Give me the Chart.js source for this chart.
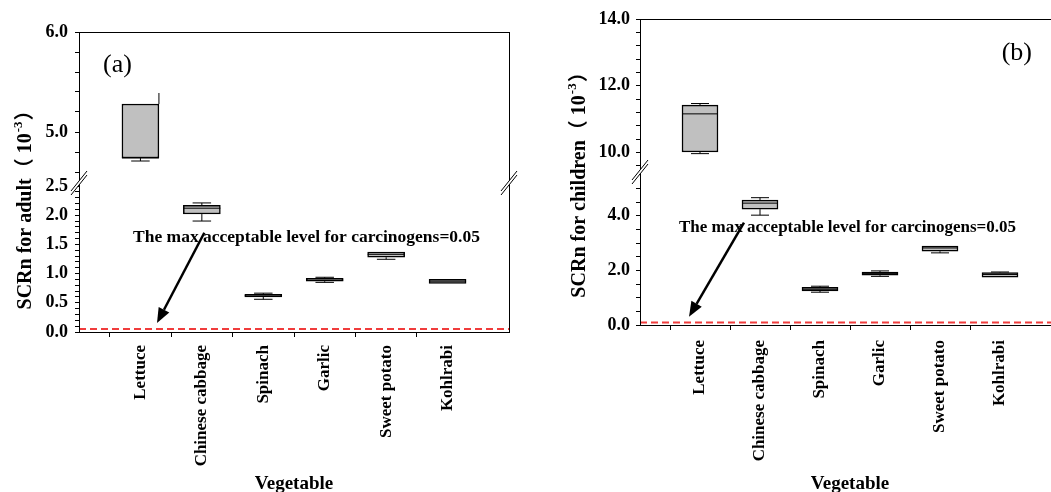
<!DOCTYPE html>
<html><head><meta charset="utf-8">
<script src="https://cdn.jsdelivr.net/npm/chart.js@4.4.1/dist/chart.umd.min.js"></script>
<style>
html,body{margin:0;padding:0;width:1051px;height:492px;overflow:hidden;background:#fff;position:relative;}
canvas{position:absolute;top:0;}
#ca{left:0;} #cb{left:528px;}
</style></head><body>
<canvas id="ca" width="526" height="500"></canvas>
<canvas id="cb" width="542" height="500"></canvas>
<script>
// ---------- data ----------
const categories = ['Lettuce', 'Chinese cabbage', 'Spinach', 'Garlic', 'Sweet potato', 'Kohlrabi'];

// SCRn for adult (10^-3)
const adultMin    = [4.71, 1.90, 0.56, 0.85, 1.245, 0.83];
const adultQ1     = [4.74, 2.02, 0.60, 0.87, 1.28, 0.83];
const adultMedian = [4.74, 2.12, 0.62, 0.89, 1.33, 0.87];
const adultQ3     = [5.28, 2.17, 0.645, 0.92, 1.37, 0.90];
const adultMax    = [5.39, 2.21, 0.665, 0.937, 1.37, 0.90];

// SCRn for children (10^-3)
const childMin    = [9.97, 4.02, 1.20, 1.78, 2.64, 1.74];
const childQ1     = [10.02, 4.24, 1.245, 1.82, 2.70, 1.75];
const childMedian = [11.16, 4.46, 1.31, 1.88, 2.82, 1.85];
const childQ3     = [11.42, 4.57, 1.38, 1.94, 2.89, 1.92];
const childMax    = [11.47, 4.66, 1.42, 1.98, 2.89, 1.94];

// reference (limit) lines
const adultLimit = 0.05;
const childLimit = 0.09;

// axis ranges (broken axes) and tick labels
const adultUpperRange = [4.46, 6.0];
const adultLowerRange = [0, 2.5];
const childUpperRange = [9.42, 14.0];
const childLowerRange = [0, 5.6];
const adultUpperTickLabels = [5.0, 6.0];
const adultLowerTickLabels = [0.0, 0.5, 1.0, 1.5, 2.0, 2.5];
const childUpperTickLabels = [10.0, 12.0, 14.0];
const childLowerTickLabels = [0.0, 2.0, 4.0];

const annotationText = 'The max acceptable level for carcinogens=0.05';
const xTitle = 'Vegetable';

// ---------- rendering ----------
const SERIF = "'Liberation Serif', 'Times New Roman', serif";
Chart.defaults.font.family = SERIF;
Chart.defaults.color = '#000';

const labels = ['', ...categories, ''];

function explicitTicks(min, max, step) {
  return (s) => {
    const t = [];
    for (let k = Math.ceil(min / step - 1e-9); k * step <= max + 1e-9; k++) t.push({ value: +(k * step).toFixed(4) });
    s.ticks = t;
  };
}

function yAxis(range, step, labelVals, weight, padding) {
  return {
    type: 'linear', position: 'left', stack: 'y', stackWeight: weight,
    min: range[0], max: range[1], offset: false,
    grid: { drawOnChartArea: false, drawTicks: true, tickLength: 4, color: '#000', tickColor: '#000', lineWidth: 1 },
    border: { display: false },
    afterBuildTicks: explicitTicks(range[0], range[1], step),
    ticks: {
      autoSkip: false, padding: padding, color: '#000',
      font: { size: 18, weight: 'bold', family: SERIF },
      callback: (v) => labelVals.some(m => Math.abs(m - v) < 1e-6) ? Number(v).toFixed(1) : ''
    },
    afterFit: (s) => { s.width = 45; }
  };
}

function line(ctx, x1, y1, x2, y2) { ctx.beginPath(); ctx.moveTo(x1, y1); ctx.lineTo(x2, y2); ctx.stroke(); }

function drawArrow(ctx, x1, y1, x2, y2) {
  const ang = Math.atan2(y2 - y1, x2 - x1), head = 15, hw = 6;
  const bx = x2 - head * Math.cos(ang), by = y2 - head * Math.sin(ang);
  ctx.lineWidth = 2.5; ctx.strokeStyle = '#000'; ctx.fillStyle = '#000';
  line(ctx, x1, y1, bx, by);
  ctx.beginPath(); ctx.moveTo(x2, y2);
  ctx.lineTo(bx + hw * Math.sin(ang), by - hw * Math.cos(ang));
  ctx.lineTo(bx - hw * Math.sin(ang), by + hw * Math.cos(ang));
  ctx.closePath(); ctx.fill();
}

function drawBreak(ctx, x, y) {
  ctx.save();
  ctx.fillStyle = '#fff';
  ctx.beginPath();
  ctx.moveTo(x - 8, y + 8); ctx.lineTo(x + 8, y - 12); ctx.lineTo(x + 8, y - 8); ctx.lineTo(x - 8, y + 12);
  ctx.closePath(); ctx.fill();
  ctx.strokeStyle = '#000'; ctx.lineWidth = 1;
  line(ctx, x - 8, y + 8, x + 8, y - 12);
  line(ctx, x - 8, y + 12, x + 8, y - 8);
  ctx.restore();
}

function decoPlugin(p) {
  return {
    id: 'deco',
    afterDatasetsDraw(chart) {
      const ctx = chart.ctx, up = chart.scales.yUp, lo = chart.scales.yLo;
      ctx.save();
      ctx.strokeStyle = '#000'; ctx.lineWidth = 1;
      p.q1.forEach((q, i) => {
        const isUp = q >= p.upperMin;
        const s = isUp ? up : lo;
        const el = chart.getDatasetMeta(isUp ? 0 : 1).data[i + 1];
        const cx = el.x, hw = el.width / 2, cap = hw / 2;
        const yMed = s.getPixelForValue(p.med[i]);
        const yQ1 = s.getPixelForValue(q), yQ3 = s.getPixelForValue(p.q3[i]);
        const yMax = s.getPixelForValue(p.max[i]), yMin = s.getPixelForValue(p.min[i]);
        line(ctx, cx - hw, yMed, cx + hw, yMed);
        const edge = p.edgeTop && p.edgeTop[i];
        if (yMax < yQ3 - 0.5) {
          const wx = edge ? cx + hw : cx;
          line(ctx, wx, yQ3, wx, yMax);
          if (!edge) line(ctx, cx - cap, yMax, cx + cap, yMax);
        }
        if (yMin > yQ1 + 0.5) {
          line(ctx, cx, yQ1, cx, yMin);
          line(ctx, cx - cap, yMin, cx + cap, yMin);
        }
      });
      ctx.restore();
    },
    afterDraw(chart) {
      const ctx = chart.ctx, a = chart.chartArea, x = chart.scales.x, up = chart.scales.yUp, lo = chart.scales.yLo;
      ctx.save();
      // frame
      ctx.strokeStyle = '#000'; ctx.lineWidth = 1;
      ctx.strokeRect(Math.round(a.left) + 0.5, Math.round(a.top) + 0.5, Math.round(a.right - a.left), Math.round(a.bottom - a.top));
      // axis breaks
      const jy = up.bottom + p.breakDy;
      drawBreak(ctx, a.left, jy);
      drawBreak(ctx, a.right, jy);
      // annotation text
      ctx.fillStyle = '#000';
      ctx.font = 'bold ' + p.textSize + 'px ' + SERIF;
      ctx.textBaseline = 'middle'; ctx.textAlign = 'left';
      ctx.fillText(annotationText, x.getPixelForValue(p.textAt[0]), lo.getPixelForValue(p.textAt[1]));
      // arrow
      drawArrow(ctx, x.getPixelForValue(p.arrowFrom[0]), lo.getPixelForValue(p.arrowFrom[1]),
                     x.getPixelForValue(p.arrowTo[0]), lo.getPixelForValue(p.arrowTo[1]));
      // panel label
      ctx.font = '26px ' + SERIF;
      ctx.textAlign = p.panelAlign;
      ctx.fillText(p.panel, p.panelAlign === 'left' ? a.left + p.panelDx : a.right - p.panelDx, a.top + p.panelDy);
      // y title
      ctx.translate(a.left - p.titleDx, a.top + p.titleDy);
      ctx.rotate(-Math.PI / 2);
      const fMain = 'bold 20px ' + SERIF + ", 'Noto Sans CJK SC'";
      const fSup = 'bold 13px ' + SERIF;
      const t1 = p.title + '\uFF08 10', t2 = '-3', t3 = '\uFF09';
      ctx.font = fMain; const w1 = ctx.measureText(t1).width, w3 = ctx.measureText(t3).width;
      ctx.font = fSup; const w2 = ctx.measureText(t2).width;
      let sx = -(w1 + w2 + w3) / 2;
      ctx.textAlign = 'left'; ctx.textBaseline = 'alphabetic';
      ctx.font = fMain; ctx.fillText(t1, sx, 7); sx += w1;
      ctx.font = fSup; ctx.fillText(t2, sx + 1, -2); sx += w2 + 2;
      ctx.font = fMain; ctx.fillText(t3, sx, 7);
      ctx.restore();
    }
  };
}

function makeChart(id, d) {
  const boxesUp = [null], boxesLo = [null];
  d.q1.forEach((q, i) => {
    const isUp = q >= d.upperRange[0];
    boxesUp.push(isUp ? [q, d.q3[i]] : null);
    boxesLo.push(isUp ? null : [q, d.q3[i]]);
  });
  boxesUp.push(null); boxesLo.push(null);
  const last = labels.length - 1;
  const limitLine = [d.limit, null, null, null, null, null, null, d.limit];
  return new Chart(document.getElementById(id), {
    type: 'bar',
    data: {
      labels,
      datasets: [
        { type: 'bar', data: boxesUp, yAxisID: 'yUp', grouped: false, barThickness: d.barW,
          backgroundColor: '#c0c0c0', borderColor: '#000', borderWidth: 1.5, borderSkipped: false },
        { type: 'bar', data: boxesLo, yAxisID: 'yLo', grouped: false, barThickness: d.barW,
          backgroundColor: '#c0c0c0', borderColor: '#000', borderWidth: 1.5, borderSkipped: false },
        { type: 'line', data: limitLine, yAxisID: 'yLo', spanGaps: true,
          borderColor: '#f03c3c', borderWidth: 2, borderDash: [7, 4], pointRadius: 0, fill: false }
      ]
    },
    options: {
      responsive: false, animation: false, devicePixelRatio: 1,
      layout: { padding: d.padding },
      plugins: { legend: { display: false }, tooltip: { enabled: false } },
      scales: {
        x: {
          type: 'category', offset: false,
          grid: { drawOnChartArea: false, drawTicks: true, tickLength: 5, color: '#000',
                  tickColor: (c) => (c.index === 0 || c.index === last) ? 'rgba(0,0,0,0)' : '#000' },
          border: { display: false },
          ticks: { autoSkip: false, minRotation: 90, maxRotation: 90, padding: d.xPad, color: '#000',
                   font: { size: 17, weight: 'bold', family: SERIF } },
          title: { display: true, text: xTitle, color: '#000', font: { size: 19, weight: 'bold', family: SERIF },
                   padding: { top: 0, bottom: 5 } },
          afterFit: (s) => { s.height = d.xH; s.paddingLeft = 0; s.paddingRight = 0; }
        },
        yLo: yAxis(d.lowerRange, d.loStep, d.loLabels, d.wLo, d.yPad),
        yUp: yAxis(d.upperRange, d.upStep, d.upLabels, d.wUp, d.yPad)
      }
    },
    plugins: [decoPlugin({
      q1: d.q1, q3: d.q3, med: d.med, min: d.min, max: d.max, upperMin: d.upperRange[0], edgeTop: d.edgeTop,
      textAt: d.textAt, textSize: d.textSize, arrowFrom: d.arrowFrom, arrowTo: d.arrowTo, breakDy: d.breakDy,
      panel: d.panel, panelAlign: d.panelAlign, panelDx: d.panelDx, panelDy: d.panelDy,
      title: d.title, titleDx: d.titleDx, titleDy: d.titleDy
    })]
  });
}

makeChart('ca', {
  q1: adultQ1, q3: adultQ3, med: adultMedian, min: adultMin, max: adultMax, limit: adultLimit,
  upperRange: adultUpperRange, lowerRange: adultLowerRange, upStep: 0.2, loStep: 0.1,
  upLabels: adultUpperTickLabels, loLabels: adultLowerTickLabels, wUp: 154, wLo: 146,
  edgeTop: [true, false, false, false, false, false],
  padding: { left: 34, right: 17, top: 32, bottom: 0 }, xH: 168, xPad: 8, yPad: 7, barW: 37,
  textAt: [0.88, 1.61], textSize: 17.5, arrowFrom: [2.04, 1.70], arrowTo: [1.27, 0.154], breakDy: -3,
  panel: '(a)', panelAlign: 'left', panelDx: 24, panelDy: 33,
  title: 'SCRn for adult', titleDx: 55, titleDy: 174
});

makeChart('cb', {
  q1: childQ1, q3: childQ3, med: childMedian, min: childMin, max: childMax, limit: childLimit,
  upperRange: childUpperRange, lowerRange: childLowerRange, upStep: 0.4, loStep: 0.5,
  upLabels: childUpperTickLabels, loLabels: childLowerTickLabels, wUp: 153, wLo: 153,
  edgeTop: null,
  padding: { left: 67, right: 10, top: 19, bottom: 0 }, xH: 175, xPad: 10, yPad: 6, barW: 36,
  textAt: [0.65, 3.55], textSize: 17, arrowFrom: [1.733, 3.75], arrowTo: [0.817, 0.30], breakDy: 0,
  panel: '(b)', panelAlign: 'right', panelDx: 28, panelDy: 34,
  title: 'SCRn for children', titleDx: 62, titleDy: 162
});
</script>
</body></html>
